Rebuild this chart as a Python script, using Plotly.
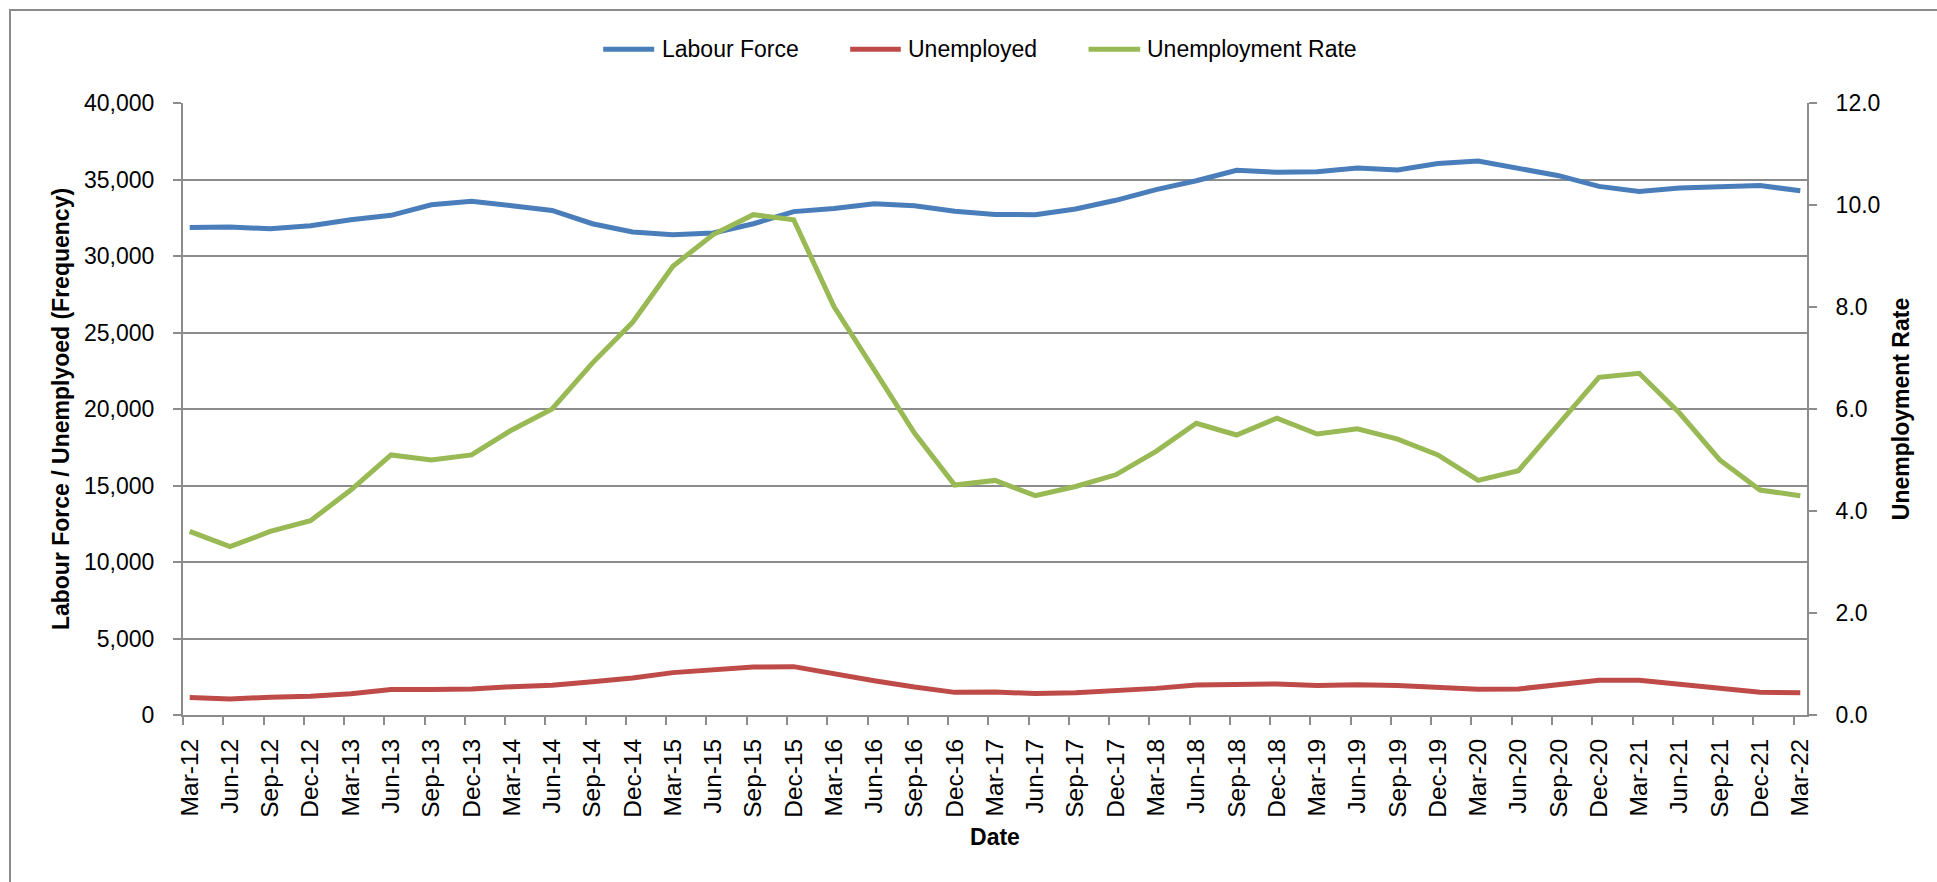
import plotly.graph_objects as go

# ---------------- data ----------------
quarters = [
    "Mar-12", "Jun-12", "Sep-12", "Dec-12",
    "Mar-13", "Jun-13", "Sep-13", "Dec-13",
    "Mar-14", "Jun-14", "Sep-14", "Dec-14",
    "Mar-15", "Jun-15", "Sep-15", "Dec-15",
    "Mar-16", "Jun-16", "Sep-16", "Dec-16",
    "Mar-17", "Jun-17", "Sep-17", "Dec-17",
    "Mar-18", "Jun-18", "Sep-18", "Dec-18",
    "Mar-19", "Jun-19", "Sep-19", "Dec-19",
    "Mar-20", "Jun-20", "Sep-20", "Dec-20",
    "Mar-21", "Jun-21", "Sep-21", "Dec-21",
    "Mar-22",
]

labour_force = [
    31870, 31890, 31780, 31980,
    32370, 32660, 33350, 33570,
    33290, 32980, 32110, 31570,
    31390, 31500, 32110, 32900,
    33110, 33420, 33290, 32920,
    32720, 32700, 33070, 33640,
    34340, 34920, 35600, 35470,
    35510, 35750, 35620, 36040,
    36210, 35730, 35250, 34550,
    34220, 34440, 34530, 34600,
    34270,
]

unemployed = [
    1140, 1050, 1160, 1220,
    1390, 1660, 1660, 1700,
    1850, 1940, 2180, 2420,
    2770, 2990, 3140, 3160,
    2660, 2240, 1830, 1480,
    1500, 1400, 1460, 1570,
    1740, 1960, 1960, 2030,
    1920, 1980, 1920, 1810,
    1680, 1700, 2000, 2270,
    2270, 2030, 1720, 1480,
    1460,
]

unemployment_rate = [
    3.60, 3.30, 3.60, 3.81,
    4.41, 5.10, 5.00, 5.10,
    5.59, 6.00, 6.90, 7.70,
    8.80, 9.42, 9.81, 9.71,
    8.01, 6.77, 5.53, 4.51,
    4.60, 4.30, 4.48, 4.71,
    5.17, 5.72, 5.49, 5.82,
    5.51, 5.61, 5.41, 5.10,
    4.60, 4.79, 5.72, 6.62,
    6.70, 5.92, 5.00, 4.41,
    4.30,
]

series_names = ["Labour Force", "Unemployed", "Unemployment Rate"]
series_colors = ["#4A7EBB", "#BE4B48", "#98B954"]

# month offset of each quarter from Mar-12 (date-like axis, monthly base unit)
months = [3 * i for i in range(len(quarters))]

# ---------------- layout geometry ----------------
W, H = 1937, 882
ML, MR, MT, MB = 183, 130, 103, 167
PW, PH = W - ML - MR, H - MT - MB

def px_x(px):
    return (px - ML) / PW

def px_y(py):
    return (H - MB - py) / PH

GRAY = "#8C8C8C"
FONT = "Liberation Sans, Arial, sans-serif"

fig = go.Figure()
fig.add_trace(go.Scatter(x=months, y=labour_force, mode="lines", name=series_names[0],
                         line=dict(color=series_colors[0], width=5), showlegend=False))
fig.add_trace(go.Scatter(x=months, y=unemployed, mode="lines", name=series_names[1],
                         line=dict(color=series_colors[1], width=5), showlegend=False))
fig.add_trace(go.Scatter(x=months, y=unemployment_rate, mode="lines", name=series_names[2],
                         yaxis="y2", line=dict(color=series_colors[2], width=5), showlegend=False))

# ---------------- custom legend (long line keys) ----------------
legend_y = 49.3
legend_keys = [(600.7, 656.7, 660.7), (847.7, 903.3, 906.7), (1086.0, 1142.7, 1145.7)]
shapes = []
annotations = []
for (x0, x1, tx), name, color in zip(legend_keys, series_names, series_colors):
    shapes.append(dict(type="line", xref="paper", yref="paper",
                       x0=px_x(x0 + 2.5), x1=px_x(x1 - 2.5), y0=px_y(legend_y), y1=px_y(legend_y),
                       line=dict(color=color, width=5)))
    annotations.append(dict(text=name, xref="paper", yref="paper", x=px_x(tx), y=px_y(legend_y),
                            xanchor="left", yanchor="middle", showarrow=False, borderpad=0,
                            font=dict(family=FONT, size=23, color="#000000")))

# outer chart border: only the left and top edges fall inside the picture
shapes.append(dict(type="line", xref="paper", yref="paper",
                   x0=px_x(10), x1=px_x(10), y0=px_y(9), y1=px_y(H + 20),
                   line=dict(color=GRAY, width=2)))
shapes.append(dict(type="line", xref="paper", yref="paper",
                   x0=px_x(9), x1=px_x(W + 20), y0=px_y(10), y1=px_y(10),
                   line=dict(color=GRAY, width=2)))

fig.update_layout(
    width=W, height=H, autosize=False,
    margin=dict(l=ML, r=MR, t=MT, b=MB, pad=0),
    paper_bgcolor="white", plot_bgcolor="white",
    font=dict(family=FONT, size=23, color="#000000"),
    showlegend=False,
    shapes=shapes,
    annotations=annotations,
    xaxis=dict(
        range=[-0.5, months[-1] + 0.5],
        tickmode="array", tickvals=months, ticktext=quarters,
        tickangle=-90, ticks="", ticklabelstandoff=12,
        tickfont=dict(family=FONT, size=24.5, color="#000000"),
        showline=True, linecolor=GRAY, linewidth=2,
        showgrid=False, zeroline=False,
        minor=dict(tickmode="array", tickvals=[m - 0.5 for m in months],
                   ticks="outside", ticklen=8, tickwidth=2, tickcolor=GRAY, showgrid=False),
        title=dict(text="<b>Date</b>", font=dict(family=FONT, size=23, color="#000000"),
                   standoff=12),
    ),
    yaxis=dict(
        range=[0, 40000], tickmode="linear", tick0=0, dtick=5000,
        tickformat=",", ticks="outside", ticklen=8, tickwidth=2, tickcolor=GRAY,
        ticklabelstandoff=14,
        tickfont=dict(family=FONT, size=23, color="#000000"),
        showline=True, linecolor=GRAY, linewidth=2,
        showgrid=True, gridcolor=GRAY, gridwidth=2, zeroline=False,
        title=dict(text="<b>Labour Force / Unemplyoed (Frequency)</b>",
                   font=dict(family=FONT, size=23, color="#000000"), standoff=8),
    ),
    yaxis2=dict(
        overlaying="y", side="right", anchor="x",
        range=[0, 12], tickmode="linear", tick0=0, dtick=2,
        tickformat=".1f", ticks="outside", ticklen=8, tickwidth=2, tickcolor=GRAY,
        ticklabelstandoff=14,
        tickfont=dict(family=FONT, size=23, color="#000000"),
        showline=True, linecolor=GRAY, linewidth=2,
        showgrid=False, zeroline=False,
        title=dict(text="<b>Unemployment Rate</b>",
                   font=dict(family=FONT, size=23, color="#000000"), standoff=14),
    ),
)

fig.write_html("out.html")
